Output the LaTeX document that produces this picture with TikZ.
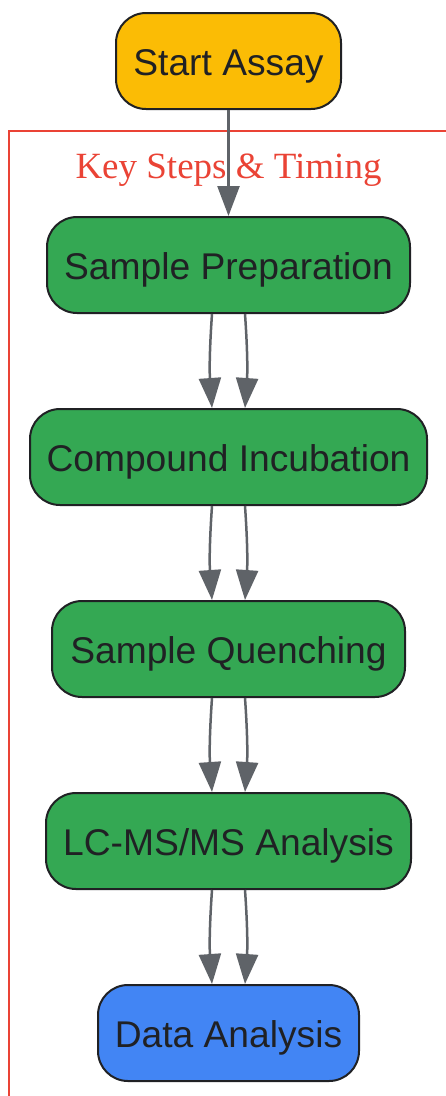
\documentclass[tikz,border=0pt]{standalone}
\usepackage{fontspec}
\setmainfont{Liberation Sans}
\newfontfamily\titlefont{Liberation Serif}
\usetikzlibrary{arrows.meta}
\definecolor{cyellow}{HTML}{FBBC05}
\definecolor{cgreen}{HTML}{34A853}
\definecolor{cblue}{HTML}{4285F4}
\definecolor{cred}{HTML}{EA4335}
\definecolor{cgray}{HTML}{5F6368}
\definecolor{ctext}{HTML}{202124}
\tikzset{
  stepbox/.style={draw=ctext, line width=2pt, rounded corners=30pt, inner sep=0pt,
    minimum height=96pt, text=ctext, text height=29.5pt, text depth=0pt,
    font=\fontsize{37.2}{44}\selectfont},
  conn/.style={draw=cgray, line width=2.5pt, -{Triangle[length=30pt,width=22pt]}},
  cluster/.style={draw=cred, line width=2pt},
}
\begin{document}
\begin{tikzpicture}[x=1pt,y=-1pt]
\useasboundingbox (0,0) rectangle (445,1096);
\draw[cluster] (9,1100) -- (9,131) -- (450,131);
\node[text=cred, anchor=base, font=\titlefont\fontsize{37}{44}\selectfont] (title) at (228.5,178) {Key Steps \& Timing};
\node[stepbox, fill=cyellow, minimum width=225pt] (start) at (228.5,61) {Start Assay};
\node[stepbox, fill=cgreen, minimum width=363pt] (prep) at (228.5,265) {Sample Preparation};
\node[stepbox, fill=cgreen, minimum width=397pt] (incub) at (228.5,457) {Compound Incubation};
\node[stepbox, fill=cgreen, minimum width=353pt] (quench) at (228.5,649) {Sample Quenching};
\node[stepbox, fill=cgreen, minimum width=365pt] (lcms) at (228.5,841) {LC-MS/MS Analysis};
\node[stepbox, fill=cblue, minimum width=261pt] (data) at (228.5,1033) {Data Analysis};
\draw[conn] (start.south) -- (prep.north);
\foreach \a/\b in {prep/incub, incub/quench, quench/lcms, lcms/data}{
  \draw[conn] ([xshift=-16.5pt]\a.south) to[bend right=4] ([xshift=-16.5pt]\b.north);
  \draw[conn] ([xshift=16.5pt]\a.south) to[bend left=4] ([xshift=16.5pt]\b.north);
}
\end{tikzpicture}
\end{document}
